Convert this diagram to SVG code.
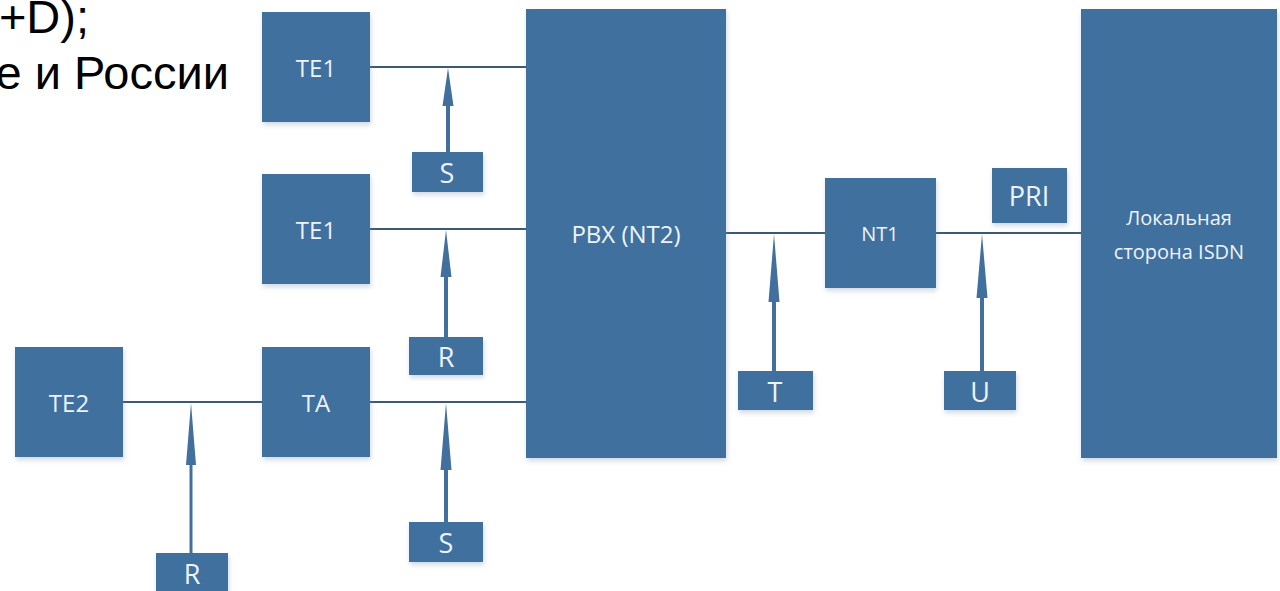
<svg xmlns="http://www.w3.org/2000/svg" width="1280" height="591" viewBox="0 0 1280 591">
<defs>
<filter id="sh" x="-10%" y="-10%" width="130%" height="130%">
<feDropShadow dx="1" dy="3" stdDeviation="2.5" flood-color="#7a93ad" flood-opacity="0.35"/>
</filter>
</defs>
<style>
.box{fill:#41709e;filter:url(#sh)}
.lbl{font-family:"Open Sans","Noto Sans",sans-serif;fill:#eef3fa;text-anchor:middle;dominant-baseline:central;font-size:24px}
.big{font-size:27px}
.sm{font-size:20px}
.ln{stroke:#3b5877;stroke-width:2;fill:none}
.shaft{stroke:#41709e;stroke-width:4;fill:none}
.head{fill:#41709e}
.title{font-family:"Liberation Sans",Arial,sans-serif;font-size:47px;fill:#000;text-anchor:end}
</style>
<rect width="1280" height="591" fill="#fff"/>
<g id="title">
<text class="title" x="89" y="33">+D);</text>
<text class="title" x="229" y="89">е и России</text>
</g>
<g id="connectors">
<line class="ln" x1="370" y1="67" x2="526" y2="67"/>
<line class="ln" x1="370" y1="229" x2="526" y2="229"/>
<line class="ln" x1="123" y1="402" x2="262" y2="402"/>
<line class="ln" x1="370" y1="402" x2="526" y2="402"/>
<line class="ln" x1="726" y1="233" x2="825" y2="233"/>
<line class="ln" x1="936" y1="233" x2="1081" y2="233"/>
<line class="shaft" x1="448" y1="152" x2="448" y2="100"/>
<polygon class="head" points="448,68 453.5,106 442.5,106"/>
<line class="shaft" x1="446" y1="337" x2="446" y2="270"/>
<polygon class="head" points="446,230 451.5,277 440.5,277"/>
<line class="shaft" x1="191" y1="553" x2="191" y2="460" style="stroke-width:3"/>
<polygon class="head" points="191,403 196,465 186,465"/>
<line class="shaft" x1="446" y1="522" x2="446" y2="465"/>
<polygon class="head" points="446,403 451.5,470 440.5,470"/>
<line class="shaft" x1="774" y1="371" x2="774" y2="295"/>
<polygon class="head" points="774,234 779.5,302 768.5,302"/>
<line class="shaft" x1="982" y1="371" x2="982" y2="292"/>
<polygon class="head" points="982,234 987.5,298 976.5,298"/>
</g>
<g id="te1a"><rect class="box" x="262" y="12" width="108" height="110"/><text class="lbl" x="316" y="67">TE1</text></g>
<g id="te1b"><rect class="box" x="262" y="174" width="108" height="110"/><text class="lbl" x="316" y="229">TE1</text></g>
<g id="ta"><rect class="box" x="262" y="347" width="108" height="110"/><text class="lbl" x="316" y="402">TA</text></g>
<g id="te2"><rect class="box" x="15" y="347" width="108" height="110"/><text class="lbl" x="69" y="402">TE2</text></g>
<g id="pbx"><rect class="box" x="526" y="9" width="200" height="449"/><text class="lbl" x="626" y="233">PBX (NT2)</text></g>
<g id="nt1"><rect class="box" x="825" y="178" width="111" height="110"/><text class="lbl sm" x="880" y="233">NT1</text></g>
<g id="local"><rect class="box" x="1081" y="9" width="196" height="449"/><text class="lbl sm" x="1179" y="217">Локальная</text><text class="lbl sm" x="1179" y="251">сторона ISDN</text></g>
<g id="s1"><rect class="box" x="412" y="152" width="71" height="40"/><text class="lbl big" x="447" y="172">S</text></g>
<g id="r1"><rect class="box" x="409" y="337" width="74" height="38"/><text class="lbl big" x="446" y="356">R</text></g>
<g id="s2"><rect class="box" x="409" y="522" width="74" height="40"/><text class="lbl big" x="446" y="542">S</text></g>
<g id="r2"><rect class="box" x="156" y="553" width="72" height="45"/><text class="lbl big" x="192" y="573">R</text></g>
<g id="t"><rect class="box" x="738" y="371" width="75" height="39"/><text class="lbl big" x="775" y="391">T</text></g>
<g id="u"><rect class="box" x="944" y="371" width="72" height="39"/><text class="lbl big" x="980" y="391">U</text></g>
<g id="pri"><rect class="box" x="992" y="168" width="75" height="55"/><text class="lbl big" x="1029" y="195">PRI</text></g>
</svg>
